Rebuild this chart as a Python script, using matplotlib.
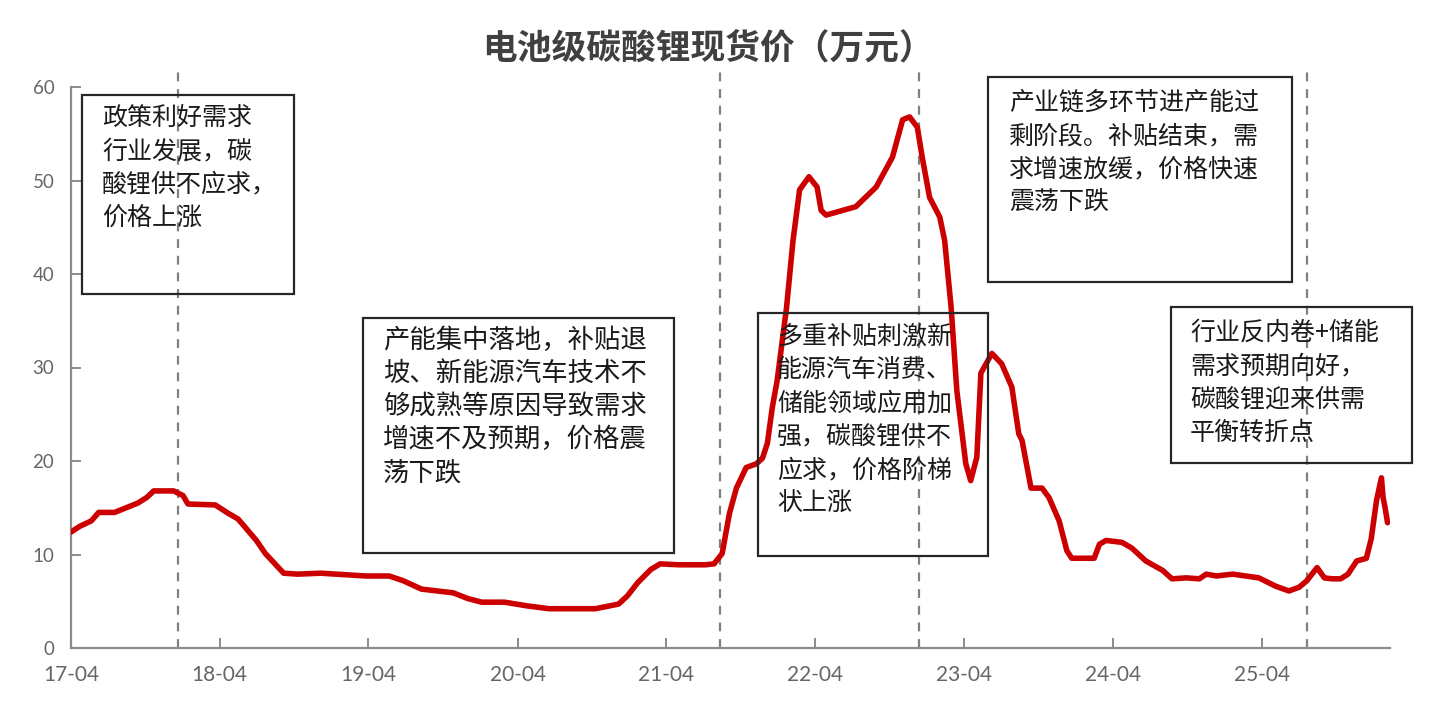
"""Battery-grade lithium carbonate spot price with annotated phases."""
import matplotlib
matplotlib.use('Agg')
import matplotlib.pyplot as plt
import matplotlib.dates as mdates
from matplotlib.patches import Rectangle
import pandas as pd

plt.rcParams['font.family'] = ['Noto Sans CJK SC', 'DejaVu Sans']

# Data (万元/吨)
dates = [
    '2017-04-01', '2017-04-22', '2017-05-21', '2017-06-08', '2017-07-17', '2017-09-12',
    '2017-10-04', '2017-10-21', '2017-12-09', '2018-01-01', '2018-01-13', '2018-03-21',
    '2018-04-22', '2018-05-16', '2018-06-30', '2018-07-22', '2018-09-05', '2018-10-09',
    '2018-12-05', '2019-03-26', '2019-05-22', '2019-06-25', '2019-08-09', '2019-10-26',
    '2019-11-30', '2020-01-04', '2020-02-29', '2020-04-25', '2020-06-18', '2020-10-09',
    '2020-12-05', '2020-12-27', '2021-01-21', '2021-02-22', '2021-03-17', '2021-05-01',
    '2021-07-06', '2021-07-27', '2021-08-16', '2021-09-03', '2021-09-20', '2021-10-14',
    '2021-11-08', '2021-11-23', '2021-12-05', '2021-12-17', '2021-12-29', '2022-01-21',
    '2022-02-06', '2022-02-22', '2022-03-17', '2022-04-06', '2022-04-16', '2022-04-28',
    '2022-07-10', '2022-08-29', '2022-10-08', '2022-11-02', '2022-11-19', '2022-12-08',
    '2022-12-20', '2023-01-07', '2023-02-01', '2023-02-13', '2023-03-01', '2023-03-15',
    '2023-04-06', '2023-04-18', '2023-05-03', '2023-05-13', '2023-06-09', '2023-07-03',
    '2023-07-28', '2023-08-14', '2023-08-22', '2023-09-13', '2023-10-10', '2023-10-27',
    '2023-11-21', '2023-12-10', '2023-12-22', '2024-02-15', '2024-02-28', '2024-03-15',
    '2024-04-23', '2024-05-17', '2024-06-21', '2024-08-01', '2024-08-24', '2024-09-28',
    '2024-10-30', '2024-11-16', '2024-12-11', '2025-01-20', '2025-03-25', '2025-05-06',
    '2025-06-07', '2025-07-02', '2025-07-21', '2025-08-15', '2025-09-02', '2025-09-21',
    '2025-10-12', '2025-10-30', '2025-11-20', '2025-12-14', '2025-12-26', '2026-01-08',
    '2026-01-20', '2026-01-24', '2026-01-29', '2026-02-04',
]
price = [
    12.4, 13.0, 13.6, 14.5, 14.5, 15.5,
    16.1, 16.8, 16.8, 16.3, 15.4, 15.3,
    14.4, 13.8, 11.5, 10.1, 8.0, 7.9,
    8.0, 7.7, 7.7, 7.2, 6.3, 5.9,
    5.3, 4.9, 4.9, 4.5, 4.2, 4.2,
    4.7, 5.6, 7.0, 8.4, 9.0, 8.9,
    8.9, 9.0, 10.1, 14.4, 17.1, 19.3,
    19.7, 20.3, 21.9, 25.7, 28.6, 36.4,
    43.6, 49.0, 50.4, 49.3, 46.8, 46.3,
    47.2, 49.3, 52.5, 56.5, 56.8, 55.7,
    52.5, 48.2, 46.1, 43.6, 36.4, 27.5,
    19.7, 17.9, 20.4, 29.4, 31.5, 30.4,
    27.9, 22.9, 22.2, 17.1, 17.1, 16.1,
    13.6, 10.4, 9.6, 9.6, 11.1, 11.5,
    11.3, 10.7, 9.3, 8.3, 7.4, 7.5,
    7.4, 7.9, 7.7, 7.9, 7.5, 6.6,
    6.1, 6.5, 7.2, 8.6, 7.5, 7.4,
    7.4, 7.9, 9.3, 9.6, 11.7, 15.8,
    18.2, 16.1, 15.0, 13.4,
]
event_dates = ['2017-12-19', '2021-08-10', '2022-12-13', '2025-07-21']
notes = [
    ['政策利好需求', '行业发展，碳', '酸锂供不应求，', '价格上涨'],
    ['产能集中落地，补贴退', '坡、新能源汽车技术不', '够成熟等原因导致需求',
     '增速不及预期，价格震', '荡下跌'],
    ['多重补贴刺激新', '能源汽车消费、', '储能领域应用加', '强，碳酸锂供不',
     '应求，价格阶梯', '状上涨'],
    ['产业链多环节进产能过', '剩阶段。补贴结束，需', '求增速放缓，价格快速', '震荡下跌'],
    ['行业反内卷+储能', '需求预期向好，', '碳酸锂迎来供需', '平衡转折点'],
]
title = '电池级碳酸锂现货价（万元）'

W, H = 1439, 714
fig = plt.figure(figsize=(W / 100, H / 100), dpi=100)
fig.patch.set_facecolor('white')
ax = fig.add_axes([71 / W, 1 - 648 / H, (1390 - 71) / W, (648 - 87) / H])

x = pd.to_datetime(dates)
ax.plot(x, price, color='#cc0000', lw=4, solid_joinstyle='round',
        solid_capstyle='round', zorder=3)

for d in event_dates:
    t = pd.Timestamp(d)
    ax.plot([t, t], [0, 62], ls=(0, (4, 3.5)), color='#808080', lw=1.6,
            clip_on=False, zorder=2)

ax.set_xlim(pd.Timestamp('2017-04-01'), pd.Timestamp('2026-02-10'))
ax.set_ylim(0, 60)
ax.set_yticks(range(0, 61, 10))
ax.xaxis.set_major_locator(mdates.MonthLocator(bymonth=4, bymonthday=1))
ax.xaxis.set_major_formatter(mdates.DateFormatter('%y-%m'))

for s in ['top', 'right']:
    ax.spines[s].set_visible(False)
for s in ['left', 'bottom']:
    ax.spines[s].set_color('#8c8c8c')
    ax.spines[s].set_linewidth(1.6)
ax.tick_params(axis='both', direction='in', color='#8c8c8c', width=1.4,
               length=7, labelcolor='#666666', pad=12)
for lab in ax.get_xticklabels():
    lab.set_fontfamily('Lato')
    lab.set_fontsize(15)
for lab in ax.get_yticklabels():
    lab.set_fontfamily('Lato')
    lab.set_fontsize(13.5)

fig.text(708 / W, 1 - 48 / H, title, ha='center', va='center', fontsize=25,
         fontweight='bold', color='#404040')

# annotation boxes: (left, top, right, bottom) in pixels, text x, first line y
boxes = [
    ((82, 95, 294, 294), 102, 118, 18),
    ((363, 318, 674, 553), 383, 340, 19),
    ((758, 313, 988, 556), 777, 337, 18),
    ((988, 77, 1292, 282), 1009, 103, 18),
    ((1171, 307, 1412, 463), 1190, 333, 18),
]
line_gap = 33.3
for (l, t, r, b), tx, ty, fs in boxes:
    fig.patches.append(Rectangle((l / W, 1 - b / H), (r - l) / W, (b - t) / H,
                                 transform=fig.transFigure, fill=False,
                                 edgecolor='#262626', lw=1.6, zorder=4))
for ((l, t, r, b), tx, ty, fs), lines in zip(boxes, notes):
    for i, line in enumerate(lines):
        fig.text(tx / W, 1 - (ty + i * line_gap) / H, line, ha='left', va='center',
                 fontsize=fs, color='#1a1a1a', zorder=5)

plt.savefig('out.png', dpi=100, facecolor='white')
